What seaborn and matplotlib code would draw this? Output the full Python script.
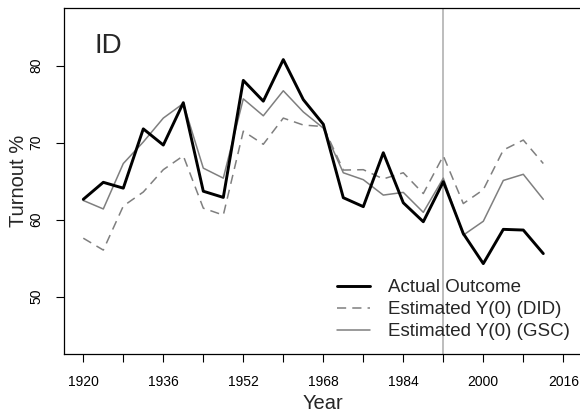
import numpy as np
import pandas as pd
import matplotlib
matplotlib.use("Agg")
import matplotlib.pyplot as plt
import seaborn as sns

years = list(range(1920, 2013, 4))
actual = [62.65, 64.86, 64.1, 71.8, 69.7, 75.2, 63.7, 62.9, 78.1, 75.4, 80.8, 75.6,
          72.4, 62.86, 61.7, 68.7, 62.2, 59.74, 64.94, 58.2, 54.3, 58.75, 58.66, 55.6]
did = [57.6, 56.06, 61.78, 63.6, 66.5, 68.3, 61.5, 60.6, 71.5, 69.8, 73.2, 72.3,
       72.1, 66.45, 66.5, 65.3, 66.1, 63.4, 68.3, 62.1, 63.9, 69.05, 70.35, 67.3]
gsc = [62.5, 61.4, 67.3, 70.1, 73.2, 75.1, 66.7, 65.4, 75.7, 73.5, 76.75, 74.0,
       71.9, 66.1, 65.2, 63.2, 63.55, 60.96, 65.4, 58.0, 59.8, 65.1, 65.9, 62.65]
labels = ["Actual Outcome", "Estimated Y(0) (DID)", "Estimated Y(0) (GSC)"]
treat_year = 1992
xticks = list(range(1920, 2017, 8))
xticklabels = [str(t) if (t - 1920) % 16 == 0 else "" for t in xticks]
yticks = [50, 60, 70, 80]

sns.set_style("ticks")
plt.rcParams['font.family'] = ['Liberation Sans', 'DejaVu Sans']

df = pd.DataFrame({"Year": years * 3,
                   "Turnout": actual + did + gsc,
                   "Series": [labels[0]] * len(years) + [labels[1]] * len(years) + [labels[2]] * len(years)})

W, H = 580, 417
fig = plt.figure(figsize=(W / 100, H / 100), dpi=100)
x0, x1 = 64.1, 582.5
y0, y1 = 8, 354
ax = fig.add_axes([x0 / W, (H - y1) / H, (x1 - x0) / W, (y1 - y0) / H])

ax.axvline(treat_year, color="#bdbdbd", lw=1.4, zorder=1)

styles = {labels[0]: dict(color="black", lw=2.1, ls="-"),
          labels[1]: dict(color="#7f7f7f", lw=1.1, ls=(0, (6, 4))),
          labels[2]: dict(color="#7f7f7f", lw=1.1, ls="-")}
for lab in [labels[2], labels[1], labels[0]]:
    sub = df[df["Series"] == lab]
    st = styles[lab]
    sns.lineplot(data=sub, x="Year", y="Turnout", ax=ax, color=st["color"],
                 lw=st["lw"], linestyle=st["ls"], label=lab, zorder=3)

ax.set_xlim(1916.16, 2019.84)
ax.set_ylim(42.56, 87.5)
ax.set_xticks(xticks)
ax.set_xticklabels(xticklabels)
ax.set_yticks(yticks)
ax.set_yticklabels([str(v) for v in yticks], rotation=90, va="center")
ax.tick_params(axis="both", length=5.5, width=0.8, color="black", labelsize=10,
               labelcolor="black", pad=9.5)
for s in ax.spines.values():
    s.set_visible(True)
    s.set_color("black")
    s.set_linewidth(0.9)

ax.set_xlabel("Year", fontsize=14.5, labelpad=4)
ax.set_ylabel("Turnout %", fontsize=14.5, labelpad=0.8)

ax.text(1922.2, 81.6, "ID", fontsize=20, ha="left", va="baseline")

handles, labs = ax.get_legend_handles_labels()
order = [labs.index(l) for l in labels]
leg = ax.legend([handles[i] for i in order], [labs[i] for i in order],
                loc="upper left", bbox_to_anchor=(337 / W, (H - 279) / H),
                bbox_transform=fig.transFigure, frameon=False, fontsize=13.5,
                handlelength=1.76, handletextpad=0.95, labelspacing=0.27,
                borderpad=0, borderaxespad=0)

fig.savefig("out.png", dpi=100)
